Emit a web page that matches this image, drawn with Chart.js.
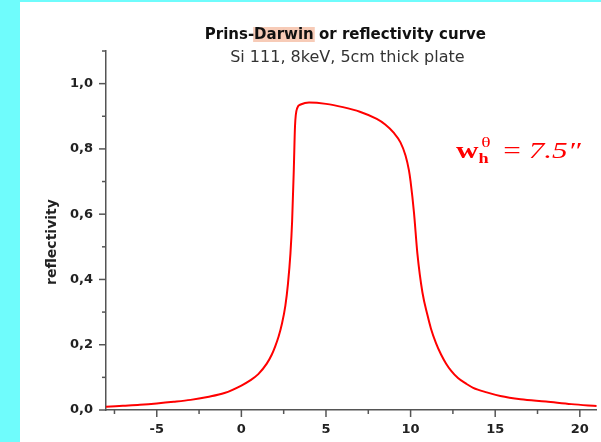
<!DOCTYPE html>
<html>
<head>
<meta charset="utf-8">
<script src="https://cdn.jsdelivr.net/npm/chart.js@4/dist/chart.umd.min.js"></script>
<style>
  html, body { margin: 0; padding: 0; background: #6ffcfc; }
  #wrap { position: absolute; left: 20px; top: 2px; width: 581px; height: 440px; background: #fff; }
</style>
</head>
<body>
<div id="wrap"><canvas id="darwinChart"></canvas></div>
<script>
// angle offset (arcsec) and reflectivity
const angle = [-8, -7, -6, -5, -4, -3, -2, -1, 0, 0.5, 1, 1.5, 1.8, 2, 2.2, 2.4, 2.6, 2.75, 2.9, 3, 3.1, 3.17,
  3.3, 3.5, 4, 5, 6, 7, 8, 8.5, 9, 9.4, 9.7, 9.9, 10, 10.2, 10.4, 10.7, 11, 11.2, 11.5, 11.8, 12.1, 12.4,
  12.8, 13.3, 13.7, 14.5, 15.3, 16.5, 18, 19.5, 21];
const reflectivity = [0.010, 0.013, 0.016, 0.020, 0.025, 0.031, 0.040, 0.052, 0.075, 0.090, 0.110, 0.142, 0.170, 0.195, 0.225, 0.265, 0.32, 0.385, 0.48, 0.58, 0.74, 0.87,
  0.925, 0.936, 0.942, 0.938, 0.928, 0.914, 0.892, 0.875, 0.85, 0.82, 0.78, 0.735, 0.70, 0.605, 0.48, 0.36, 0.29, 0.25, 0.205, 0.17, 0.142, 0.12,
  0.098, 0.080, 0.068, 0.054, 0.043, 0.033, 0.026, 0.018, 0.012];

const titleBefore = 'Prins-';
const titleMark = 'Darwin';
const titleAfter = ' or reflectivity curve';
const subtitle = 'Si 111, 8keV, 5cm thick plate';
const yTitle = 'reflectivity';

const axisColor = '#555';
const tickFont = { family: 'DejaVu Sans', size: 13, weight: 'bold' };

// title, axis title, tick marks and the width note
const extras = {
  id: 'extras',
  afterDraw(chart) {
    const c = chart.ctx;
    const area = chart.chartArea;
    c.save();

    // title with highlighted word
    const cx = (area.left + area.right) / 2 - 6;
    c.font = 'bold 15px "DejaVu Sans"';
    const w1 = c.measureText(titleBefore).width;
    const w2 = c.measureText(titleMark).width;
    const w3 = c.measureText(titleAfter).width;
    let x = cx - (w1 + w2 + w3) / 2;
    c.fillStyle = '#f7cbb7';
    c.fillRect(x + w1 - 1, 25, w2 + 2, 15);
    c.fillStyle = '#111';
    c.textBaseline = 'middle';
    c.textAlign = 'left';
    c.fillText(titleBefore, x, 33);
    c.fillText(titleMark, x + w1, 33);
    c.fillText(titleAfter, x + w1 + w2, 33);

    c.font = '16px "DejaVu Sans"';
    c.fillStyle = '#333';
    c.textAlign = 'center';
    c.fillText(subtitle, cx + 2, 56);

    // y axis title
    c.save();
    c.translate(32, 240);
    c.rotate(-Math.PI / 2);
    c.font = 'bold 14px "DejaVu Sans"';
    c.fillStyle = '#222';
    c.fillText(yTitle, 0, 0);
    c.restore();

    // tick marks, major longer than minor
    c.strokeStyle = axisColor;
    c.lineWidth = 1.5;
    const xs = chart.scales.x, ys = chart.scales.y;
    xs.ticks.forEach(t => {
      const px = xs.getPixelForValue(t.value);
      const len = t.value % 5 === 0 ? 7 : 4;
      c.beginPath();
      c.moveTo(px, area.bottom);
      c.lineTo(px, area.bottom + len);
      c.stroke();
    });
    ys.ticks.forEach(t => {
      const py = ys.getPixelForValue(t.value);
      const len = Math.round(t.value * 10) % 2 === 0 ? 7 : 4;
      c.beginPath();
      c.moveTo(area.left, py);
      c.lineTo(area.left - len, py);
      c.stroke();
    });

    // width note (the picture is stretched sideways)
    c.save();
    c.translate(436, 156);
    c.scale(1.3, 1);
    c.fillStyle = '#ff0000';
    c.textBaseline = 'alphabetic';
    c.textAlign = 'left';
    let nx = 0;
    c.font = 'bold 24px "Liberation Serif"';
    c.fillText('w', nx, 0);
    nx += c.measureText('w').width;
    c.font = 'bold 14px "Liberation Serif"';
    c.fillText('h', nx, 5);
    c.font = '15px "Liberation Serif"';
    c.fillText('\u03b8', nx + 2, -11);
    nx += 13;
    c.font = '24px "Liberation Serif"';
    c.fillText(' = ', nx, 0);
    nx += c.measureText(' = ').width;
    c.font = 'italic 24px "Liberation Serif"';
    c.fillText('7.5\u2033', nx, 0);
    c.restore();

    c.restore();
  }
};

new Chart(document.getElementById('darwinChart'), {
  type: 'line',
  data: {
    datasets: [{
      data: angle.map((a, i) => ({ x: a, y: reflectivity[i] })),
      borderColor: '#ff0000',
      borderWidth: 2,
      pointRadius: 0,
      fill: false,
      cubicInterpolationMode: 'monotone'
    }]
  },
  options: {
    responsive: true,
    maintainAspectRatio: false,
    animation: false,
    layout: { padding: { top: 49, right: 4, left: 0, bottom: 0 } },
    plugins: {
      legend: { display: false },
      tooltip: { enabled: false },
      title: { display: false }
    },
    scales: {
      x: {
        type: 'linear',
        min: -8,
        max: 21,
        afterFit: s => { s.height = 32; },
        border: { color: axisColor, width: 1.5 },
        grid: { display: false, drawTicks: false },
        ticks: {
          stepSize: 2.5,
          includeBounds: false,
          autoSkip: false,
          maxRotation: 0,
          padding: 12,
          color: '#222',
          font: tickFont,
          callback: v => (v % 5 === 0 ? String(v) : '')
        }
      },
      y: {
        min: 0,
        max: 1.1,
        afterFit: s => { s.width = 86; },
        border: { color: axisColor, width: 1.5 },
        grid: { display: false, drawTicks: false },
        ticks: {
          stepSize: 0.1,
          autoSkip: false,
          padding: 13,
          color: '#222',
          font: tickFont,
          callback: v => (Math.round(v * 10) % 2 === 0 ? v.toFixed(1).replace('.', ',') : '')
        }
      }
    }
  },
  plugins: [extras]
});
</script>
</body>
</html>
